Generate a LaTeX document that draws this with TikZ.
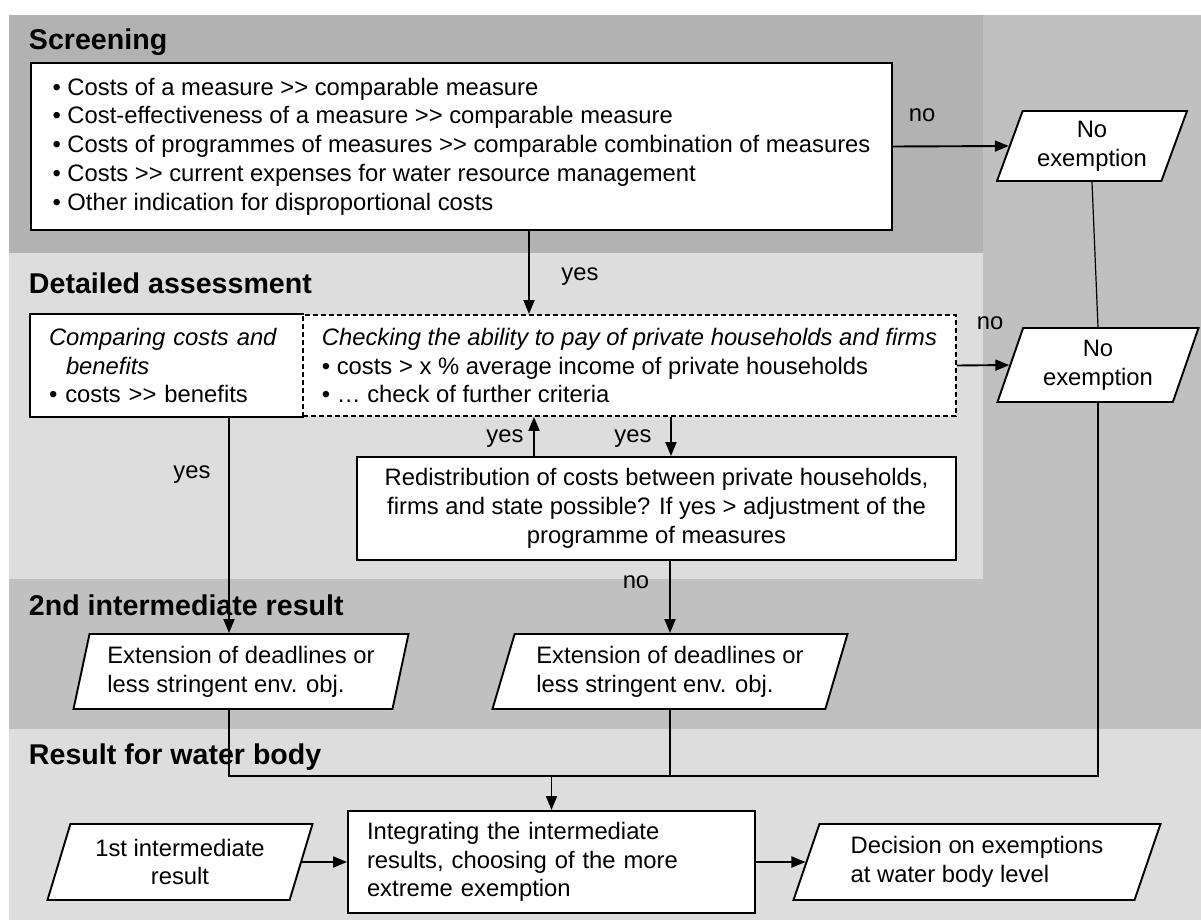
\documentclass[tikz,border=0pt]{standalone}
\usepackage{fontspec}
\setmainfont{Liberation Sans}
\usetikzlibrary{arrows.meta,shapes.geometric}

\definecolor{banddark}{RGB}{178,178,178}
\definecolor{bandmid}{RGB}{192,192,192}
\definecolor{bandlight}{RGB}{221,221,221}
\newcommand{\mgt}{>\kern0pt>}

\tikzset{
  >={Triangle[length=7pt,width=5.5pt]},
  box/.style={draw, fill=white, font=\fontsize{11.9}{14.4}\selectfont},
  para/.style={box, trapezium, trapezium stretches body=true},
  lbl/.style={font=\fontsize{11.9}{14.4}\selectfont, inner sep=0pt},
  bandtitle/.style={font=\fontsize{14.3}{17}\selectfont\bfseries, anchor=base west, inner sep=0pt}
}

\begin{document}
\begin{tikzpicture}[x=0.5pt, y=-0.5pt, line width=0.95pt]
    \useasboundingbox (0,0) rectangle (1201,920);
    \fill[bandmid] (9,15) rectangle (1201,729);
    \fill[banddark] (9,15) rectangle (983,253);
    \fill[bandlight] (9,253) rectangle (983,579);
    \fill[bandlight] (9,729) rectangle (1201,920);

    \node[bandtitle] (tscr) at (28,50) {Screening};
    \node[bandtitle] (tdet) at (28,293) {Detailed assessment};
    \node[bandtitle] (tsec) at (28,615) {2nd intermediate result};
    \node[bandtitle] (tres) at (28,764) {Result for water body};

    \node[box, minimum width=430.5pt, minimum height=83.5pt, align=left] (scr) at (461.5,146.5)
      {• Costs of a measure \mgt{} comparable measure\\
       • Cost-effectiveness of a measure \mgt{} comparable measure\\
       • Costs of programmes of measures \mgt{} comparable combination of measures\\
       • Costs \mgt{} current expenses for water resource management\\
       • Other indication for disproportional costs};
    \node[para, trapezium left angle=68, trapezium right angle=112, minimum width=95pt, minimum height=35pt, align=center] (ne1) at (1092,146) {No\\exemption};

    \node[box, draw=none, text width=118pt, inner xsep=9pt, minimum height=50.5pt, align=left] (cmp) at (167,365.5)
      {\textit{Comparing costs and}\\\hspace*{8.5pt}\textit{benefits}\\• costs \mgt{} benefits};
    \node[box, dashed, dash pattern=on 2.5pt off 1.5pt, minimum width=326.5pt, minimum height=50.5pt, align=left] (chk) at (629.5,365.5)
      {\textit{Checking the ability to pay of private households and firms}\\
       • costs > x \% average income of private households\\
       • … check of further criteria};
    \draw (cmp.north east) -- (cmp.north west) -- (cmp.south west) -- (cmp.south east);
    \node[para, trapezium left angle=68, trapezium right angle=112, minimum width=100.5pt, minimum height=37pt, align=center] (ne2) at (1098,365) {No\\exemption};

    \node[box, minimum width=299.5pt, minimum height=51.5pt, align=center] (redis) at (656.5,508.5)
      {Redistribution of costs between private households,\\
       firms and state possible? If yes > adjustment of the\\
       programme of measures};

    \node[para, trapezium left angle=76, trapezium right angle=104, minimum width=167.5pt, minimum height=37.5pt, align=left] (ext1) at (241,671.5)
      {Extension of deadlines or\\less stringent env. obj.};
    \node[para, trapezium left angle=71, trapezium right angle=109, minimum width=177.5pt, minimum height=37.5pt, align=left] (ext2) at (670,671.5)
      {Extension of deadlines or\\less stringent env. obj.};

    \node[para, trapezium left angle=69, trapezium right angle=111, minimum width=132.5pt, minimum height=38pt, align=center] (first) at (180,862)
      {1st intermediate\\result};
    \node[box, text width=184.5pt, inner xsep=9.5pt, minimum height=51pt, align=left] (int) at (551.5,862)
      {Integrating the intermediate\\results, choosing of the more\\extreme exemption};
    \node[para, trapezium left angle=68, trapezium right angle=112, minimum width=183.5pt, minimum height=38pt, align=left] (dec) at (977,862)
      {Decision on exemptions\\at water body level};

    \node[lbl] (lno1) at (922,115) {no};
    \node[lbl] (lyes1) at (580,277) {yes};
    \node[lbl] (lno2) at (990,323) {no};
    \node[lbl] (lyes2) at (192,475) {yes};
    \node[lbl] (lyes3) at (505,439) {yes};
    \node[lbl] (lyes4) at (633,439) {yes};
    \node[lbl] (lno3) at (636,582) {no};

    \draw[->] (scr.east) -- (ne1.west);
    \draw[line width=0.6pt] (ne1.center |- ne1.south) -- (ne2.center |- ne2.north);
    \coordinate (scryes) at ([xshift=33.75pt]scr.south);
    \draw[->] (scryes) -- (scryes |- chk.north);
    \draw[->] (chk.east) -- (ne2.west);
    \coordinate (cmpout) at ([xshift=31pt]cmp.south);
    \draw[->] (cmpout) -- (cmpout |- ext1.north);
    \coordinate (redup) at ([xshift=-61.25pt]redis.north);
    \draw[->] (redup) -- (redup |- chk.south);
    \coordinate (chkdn) at ([xshift=20.75pt]chk.south);
    \draw[->] (chkdn) -- (chkdn |- redis.north);
    \draw[->] (ext2.center |- redis.south) -- (ext2.center |- ext2.north);
    \coordinate (mrg) at ([yshift=17pt]int.north);
    \draw (cmpout |- ext1.south) -- (cmpout |- mrg) -| (ne2.center |- ne2.south);
    \draw (ext2.center |- ext2.south) -- (ext2.center |- mrg);
    \draw[->] (mrg) -- (int.north);
    \draw[->] (first.east) -- (int.west);
    \draw[->] (int.east) -- (dec.west);
\end{tikzpicture}
\end{document}
